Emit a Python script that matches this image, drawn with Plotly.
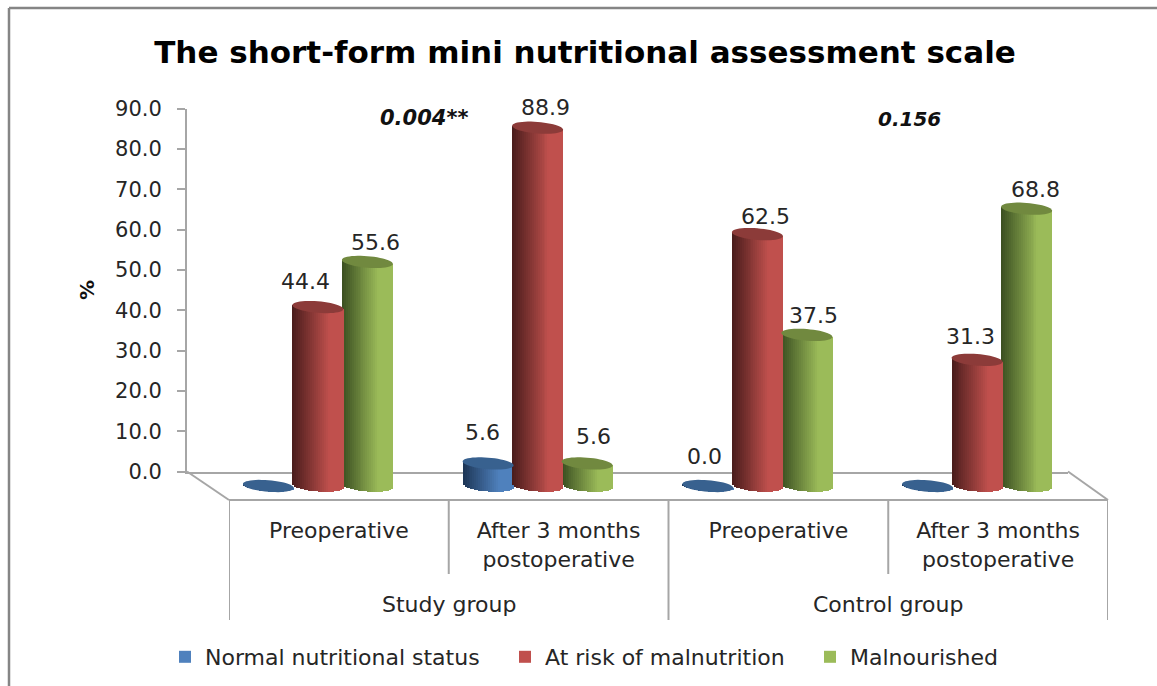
import math
import plotly.graph_objects as go

W, H = 1157, 686

# ---------- data ----------
periods = ["Preoperative", "After 3 months<br>postoperative", "Preoperative", "After 3 months<br>postoperative"]
groups = ["Study group", "Control group"]
normal = [0.0, 5.6, 0.0, 0.0]
at_risk = [44.4, 88.9, 62.5, 31.3]
malnourished = [55.6, 5.6, 37.5, 68.8]
normal_labels = ["", "5.6", "0.0", ""]
at_risk_labels = ["44.4", "88.9", "62.5", "31.3"]
malnourished_labels = ["55.6", "5.6", "37.5", "68.8"]
y_ticks = [0, 10, 20, 30, 40, 50, 60, 70, 80, 90]

TITLE = "The short-form mini nutritional assessment scale"
FONT = "DejaVu Sans"
TXT = "#262626"
GRID = "#A6A6A6"

def px(x): return x / W
def py(y): return 1 - y / H

# ---------- geometry of the 3-D look (pixels) ----------
CAT_PX = 219.75
UNIT_PX = 4.03
BAR_W = 51 / CAT_PX
STEP = 49.5 / CAT_PX
B = 5.8 / UNIT_PX      # cap half height, value units
TILT = 2.0 / UNIT_PX   # cap tilt, value units
N = 26

series = [
    dict(name="Normal nutritional status", vals=normal, labels=normal_labels, idx=-1,
         dark=(28, 52, 84), base=(79, 129, 189), cap="#38618F", legend="legend",
         lbl=[(0, 0), (-6, 31), (-3, 29), (0, 0)]),
    dict(name="Malnourished", vals=malnourished, labels=malnourished_labels, idx=1,
         dark=(58, 78, 32), base=(155, 187, 89), cap="#71893F", legend="legend3",
         lbl=[(8, 19), (6, 27), (7, 19), (9, 19)]),
    dict(name="At risk of malnutrition", vals=at_risk, labels=at_risk_labels, idx=0,
         dark=(72, 28, 27), base=(192, 80, 77), cap="#8C3B39", legend="legend2",
         lbl=[(-12, 26), (8, 20), (8, 18), (-7, 23)]),
]

def shade(s, t):
    k = min(t / 0.72, 1.0)
    c = [round(d + (b - d) * k) for d, b in zip(s["dark"], s["base"])]
    return f"rgb({c[0]},{c[1]},{c[2]})"

fig = go.Figure()
cat_x = list(range(len(periods)))
shapes, annos = [], []

for s in series:
    centers = [c + s["idx"] * STEP for c in cat_x]
    for j in range(N):
        u0 = -1 + 2 * j / N
        uc = u0 + 1 / N
        base = -B * math.sqrt(max(0, 1 - uc * uc)) - TILT * uc
        tops = [v - TILT * uc for v in s["vals"]]
        fig.add_bar(
            x=centers, y=[t - base for t in tops], base=[base] * len(centers),
            offset=u0 * BAR_W / 2, width=(2 / N) * BAR_W / 2 * 1.15,
            marker=dict(color=shade(s, (j + 0.5) / N), line=dict(width=0)),
            xaxis="x2", yaxis="y2", name=s["name"], hoverinfo="skip",
            showlegend=(j == N - 1), legend=s["legend"],
        )
    for cx, v, lab, (dx, dy) in zip(centers, s["vals"], s["labels"], s["lbl"]):
        pts = []
        for k in range(49):
            a = 2 * math.pi * k / 48
            pts.append((cx + BAR_W / 2 * math.cos(a), v + B * math.sin(a) - TILT * math.cos(a)))
        path = "M" + "L".join(f"{x:.4f},{y:.3f}" for x, y in pts) + "Z"
        shapes.append(dict(type="path", path=path, xref="x2", yref="y2",
                           fillcolor=s["cap"], line=dict(width=0), layer="above"))
        if lab:
            annos.append(dict(text=lab, x=cx, y=v, xref="x2", yref="y2", showarrow=False,
                              xanchor="center", yanchor="middle",
                              xshift=dx, yshift=dy, font=dict(family=FONT, size=22, color=TXT)))

# helper traces so the wall and front axes exist
fig.add_scatter(x=[0], y=[0], xaxis="x3", yaxis="y", mode="markers",
                marker=dict(opacity=0), showlegend=False, hoverinfo="skip")
fig.add_scatter(x=[0], y=[0], xaxis="x", yaxis="y", mode="markers",
                marker=dict(opacity=0), showlegend=False, hoverinfo="skip")

line = dict(color=GRID, width=2)
# floor sides
for x0, y0, x1, y1 in [(187, 471.5, 229, 500), (1068, 471.5, 1108, 500)]:
    shapes.append(dict(type="line", xref="paper", yref="paper", x0=px(x0), y0=py(y0),
                       x1=px(x1), y1=py(y1), line=line, layer="below"))
# dividers on the front axis
for xv, yb in [(-0.5, 620), (0.5, 574), (1.5, 620), (2.5, 574), (3.5, 620)]:
    shapes.append(dict(type="line", xref="x3", yref="paper", x0=xv, x1=xv, y0=py(500), y1=py(yb),
                       line=line, layer="below"))
# outer frame
shapes.append(dict(type="line", xref="paper", yref="paper", x0=px(9), x1=px(9), y0=py(8), y1=0,
                   line=dict(color="#858585", width=2.5)))
shapes.append(dict(type="line", xref="paper", yref="paper", x0=px(9), x1=1, y0=py(8), y1=py(8),
                   line=dict(color="#858585", width=2.5)))

for g, xv in zip(groups, [0.5, 2.5]):
    annos.append(dict(text=g, x=xv, xref="x3", y=py(604), yref="paper", showarrow=False,
                      xanchor="center", yanchor="middle",
                      font=dict(family=FONT, size=22, color=TXT)))
for text, x, y, size, angle in [("<b><i>0.004**</i></b>", 423.5, 118, 21, 0),
                                ("<b><i>0.156</i></b>", 909, 119, 20, 0),
                                ("<b>%</b>", 87, 290, 20, -90)]:
    annos.append(dict(text=text, x=px(x), y=py(y), xref="paper", yref="paper", textangle=angle,
                      xanchor="center", yanchor="middle", showarrow=False,
                      font=dict(family=FONT, size=size, color="#111111")))

def legend_at(x):
    return dict(x=px(x), y=py(657), xanchor="left", yanchor="middle", orientation="h",
                bgcolor="rgba(0,0,0,0)", font=dict(family=FONT, size=22, color=TXT),
                itemclick=False, itemdoubleclick=False)

fig.update_layout(
    width=W, height=H, margin=dict(l=0, r=0, t=0, b=0, pad=0, autoexpand=False),
    paper_bgcolor="white", plot_bgcolor="rgba(0,0,0,0)",
    barmode="overlay", bargap=0,
    title=dict(text=f"<b>{TITLE}</b>", x=585 / W, xanchor="center", y=py(52), yanchor="middle",
               font=dict(family=FONT, size=31, color="#000000")),
    xaxis=dict(domain=[px(187), px(1068)], range=[0, 1], showticklabels=False, ticks="",
               showgrid=False, zeroline=False, showline=True, linecolor=GRID, linewidth=2, anchor="y"),
    yaxis=dict(domain=[py(471.5), py(108.5)], range=[0, 90], tickvals=y_ticks, tickformat=".1f",
               ticks="outside", ticklen=8, tickcolor=GRID, tickwidth=2, ticklabelstandoff=11,
               showgrid=False, zeroline=False, showline=True, linecolor=GRID, linewidth=2, anchor="x",
               tickfont=dict(family=FONT, size=21, color=TXT)),
    xaxis2=dict(domain=[px(208), px(1087)], range=[-0.5, 3.5], visible=False, anchor="y2"),
    yaxis2=dict(domain=[py(486 + 3 * UNIT_PX), py(486 - 92 * UNIT_PX)], range=[-3, 92],
                visible=False, anchor="x2"),
    xaxis3=dict(domain=[px(229), px(1108)], range=[-0.5, 3.5], anchor="free", position=py(500),
                tickvals=cat_x, ticktext=periods, ticks="", showgrid=False, zeroline=False,
                showline=True, linecolor=GRID, linewidth=2, ticklabelstandoff=11,
                tickfont=dict(family=FONT, size=22, color=TXT)),
    legend=legend_at(165), legend2=legend_at(505), legend3=legend_at(810),
    shapes=shapes, annotations=annos,
)

fig.write_html("out.html", config=dict(displayModeBar=False),
               post_script="document.body.style.margin='0';document.body.style.overflow='hidden';")
